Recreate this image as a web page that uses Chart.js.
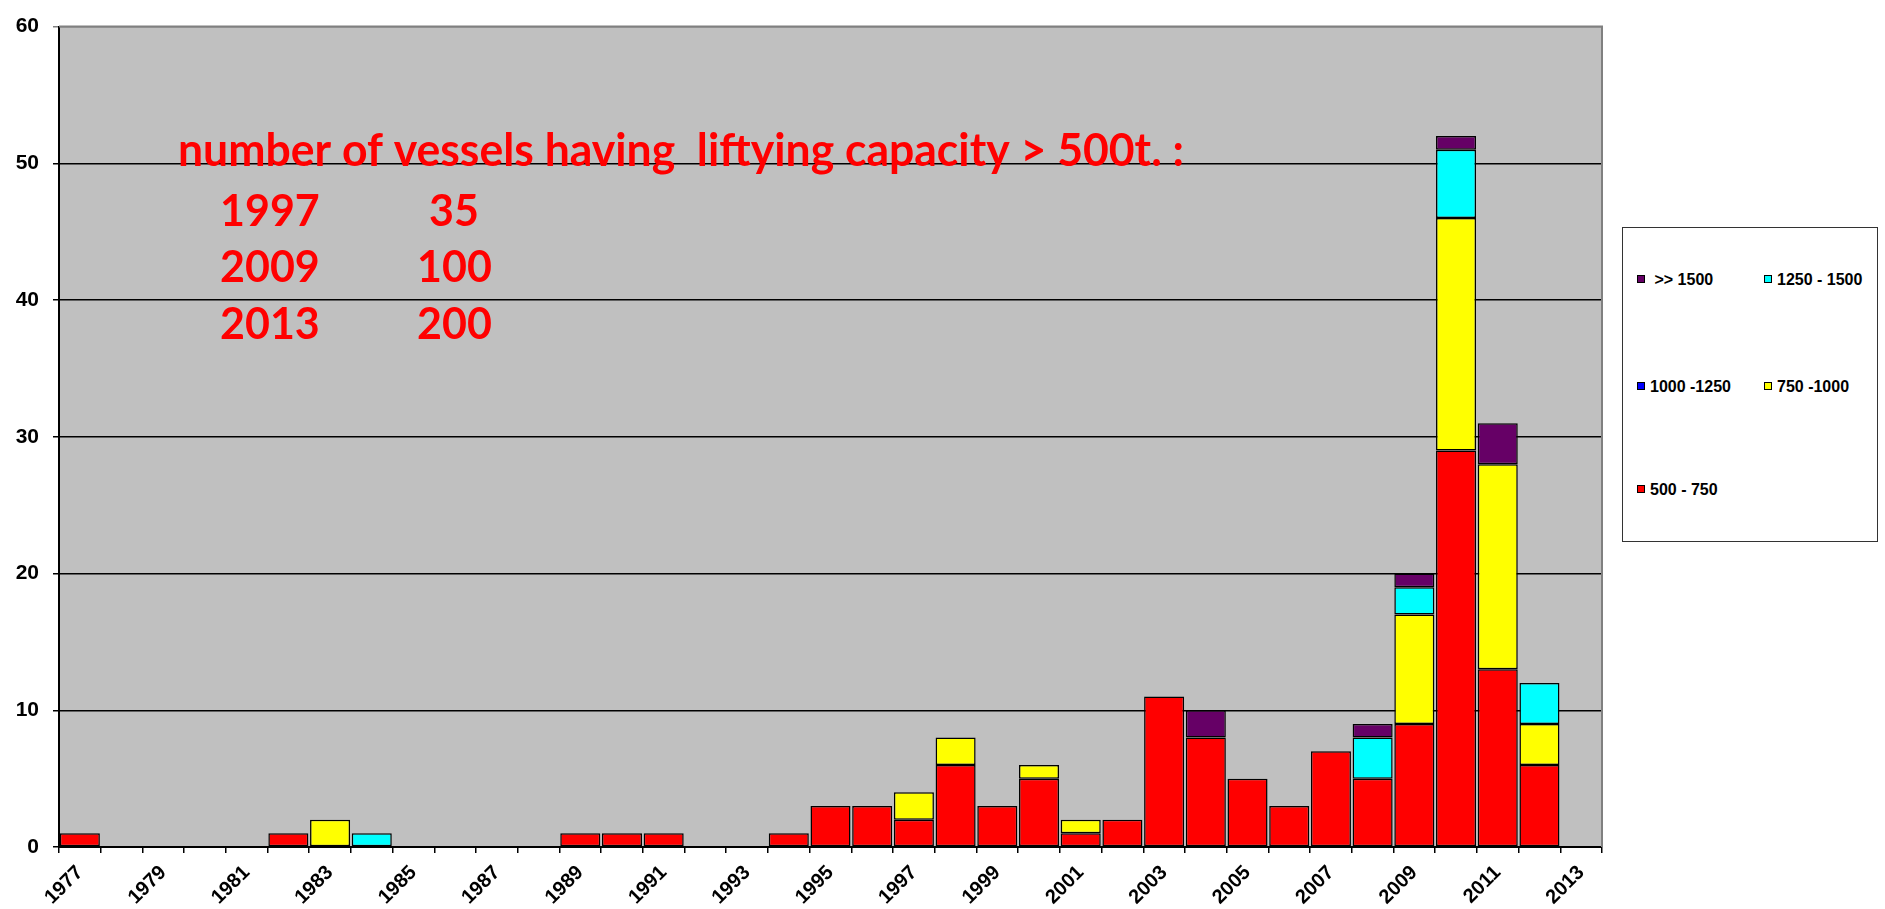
<!DOCTYPE html>
<html>
<head>
    <title>Vessels by lifting capacity</title>
    <script src="https://cdn.jsdelivr.net/npm/chart.js"></script>
    <style>
        body { margin: 0; background: #ffffff; }
        #wrap { position: relative; width: 1885px; height: 909px; }
        #legend {
            position: absolute; left: 1622px; top: 227px;
            width: 256px; height: 315px;
            border: 1.5px solid #333; background: #fff; box-sizing: border-box;
            font-family: "Liberation Sans", Arial, sans-serif; font-weight: bold; font-size: 16px; color: #000;
        }
        .item { position: absolute; white-space: pre; line-height: 18px; }
        .box { display: inline-block; width: 6px; height: 6px; border: 1px solid #000; margin-right: 5px; vertical-align: 2px; }
    </style>
</head>
<body>
<div id="wrap">
    <canvas id="chart" width="1885" height="909"></canvas>
    <div id="legend"></div>
</div>
<script>
    const years = ['1977','1978','1979','1980','1981','1982','1983','1984','1985','1986','1987','1988',
                   '1989','1990','1991','1992','1993','1994','1995','1996','1997','1998','1999','2000',
                   '2001','2002','2003','2004','2005','2006','2007','2008','2009','2010','2011','2012','2013'];

    // counts per year, one array per capacity class (stacked bottom to top)
    const cap500_750   = [1,0,0,0,0,1,0,0,0,0,0,0,1,1,1,0,0,1,3,3,2,6,3,5,1,2,11,8,5,3,7,5,9,29,13,6,0];
    const cap1000_1250 = [0,0,0,0,0,0,0,0,0,0,0,0,0,0,0,0,0,0,0,0,0,0,0,0,0,0,0,0,0,0,0,0,0,0,0,0,0];
    const cap750_1000  = [0,0,0,0,0,0,2,0,0,0,0,0,0,0,0,0,0,0,0,0,2,2,0,1,1,0,0,0,0,0,0,0,8,17,15,3,0];
    const cap1250_1500 = [0,0,0,0,0,0,0,1,0,0,0,0,0,0,0,0,0,0,0,0,0,0,0,0,0,0,0,0,0,0,0,3,2,5,0,3,0];
    const cap1500plus  = [0,0,0,0,0,0,0,0,0,0,0,0,0,0,0,0,0,0,0,0,0,0,0,0,0,0,0,2,0,0,0,1,1,1,3,0,0];

    const yTicks = [0, 10, 20, 30, 40, 50, 60];

    const noteTitle = 'number of vessels having  liftying capacity > 500t. :';
    const noteYears = ['1997', '2009', '2013'];
    const noteCounts = ['35', '100', '200'];

    function ds(label, data, color) {
        return {
            label: label,
            data: data.map(v => v === 0 ? null : v), // no empty segments drawn
            backgroundColor: color,
            borderColor: '#000', borderWidth: 1.5, borderSkipped: false,
            barPercentage: 0.96, categoryPercentage: 1.0
        };
    }

    const datasets = [
        ds('500 - 750', cap500_750, '#ff0000'),
        ds('1000 -1250', cap1000_1250, '#0000ff'),
        ds('750 -1000', cap750_1000, '#ffff00'),
        ds('1250 - 1500', cap1250_1500, '#00ffff'),
        ds('>> 1500', cap1500plus, '#660066')
    ];

    // plot background, right/top border and red note
    const decor = {
        id: 'decor',
        beforeDraw(chart) {
            const a = chart.chartArea, c = chart.ctx;
            c.save();
            c.fillStyle = '#c0c0c0';
            c.fillRect(a.left, a.top, a.right - a.left, a.bottom - a.top);
            c.restore();
        },
        afterDatasetsDraw(chart) {
            const a = chart.chartArea, c = chart.ctx;
            c.save();
            c.strokeStyle = '#808080';
            c.lineWidth = 2;
            c.beginPath();
            c.moveTo(a.left, a.top); c.lineTo(a.right, a.top); c.lineTo(a.right, a.bottom);
            c.stroke();

            c.fillStyle = '#ff0000';
            c.textBaseline = 'alphabetic';
            c.font = 'bold 45px Lato, "Open Sans", sans-serif';
            c.fillText(noteTitle, 178, 166, 1006);
            c.font = 'bold 43px Lato, "Open Sans", sans-serif';
            const rowsY = [226, 282, 339];
            const countX = [429, 417, 417];
            for (let i = 0; i < noteYears.length; i++) {
                c.fillText(noteYears[i], 220, rowsY[i]);
                c.fillText(noteCounts[i], countX[i], rowsY[i]);
            }
            c.restore();
        }
    };

    const chart = new Chart(document.getElementById('chart'), {
        type: 'bar',
        data: { labels: years, datasets: datasets },
        options: {
            responsive: false,
            animation: false,
            layout: { padding: { top: 20, right: 283, left: 0, bottom: 0 } },
            plugins: { legend: { display: false }, tooltip: { enabled: false } },
            scales: {
                x: {
                    stacked: true,
                    offset: true,
                    grid: { offset: true, drawOnChartArea: false, drawTicks: true, tickLength: 6, color: '#000', lineWidth: 1.5 },
                    border: { color: '#000', width: 2 },
                    ticks: {
                        autoSkip: false, maxRotation: 45, minRotation: 45, padding: 8,
                        color: '#000',
                        font: { family: '"Liberation Sans", Arial, sans-serif', weight: 'bold', size: 20 },
                        callback: function(v, i) { return i % 2 === 0 ? years[i] : ''; }
                    },
                    afterFit: function(s) { s.height = 62; }
                },
                y: {
                    stacked: true,
                    min: 0, max: 60,
                    afterBuildTicks: function(s) { s.ticks = yTicks.map(v => ({ value: v })); },
                    grid: {
                        color: ctx => ctx.tick && ctx.tick.value === 60 ? '#808080' : '#000',
                        lineWidth: 1.5, tickLength: 6
                    },
                    border: { color: '#000', width: 2 },
                    ticks: {
                        color: '#000', padding: 14,
                        font: { family: '"Liberation Sans", Arial, sans-serif', weight: 'bold', size: 21 }
                    },
                    afterFit: function(s) { s.width = 59; }
                }
            }
        },
        plugins: [decor]
    });

    // legend: two columns, Excel order
    const legendOrder = [4, 3, 1, 2, 0];
    const legendPos = [[14, 43], [141, 43], [14, 150], [141, 150], [14, 253]];
    const legendEl = document.getElementById('legend');
    legendOrder.forEach(function(di, k) {
        const d = datasets[di];
        const it = document.createElement('div');
        it.className = 'item';
        it.style.left = legendPos[k][0] + 'px';
        it.style.top = legendPos[k][1] + 'px';
        const b = document.createElement('span');
        b.className = 'box';
        b.style.background = d.backgroundColor;
        it.appendChild(b);
        it.appendChild(document.createTextNode((d.label.startsWith('>>') ? ' ' : '') + d.label));
        legendEl.appendChild(it);
    });
</script>
</body>
</html>
